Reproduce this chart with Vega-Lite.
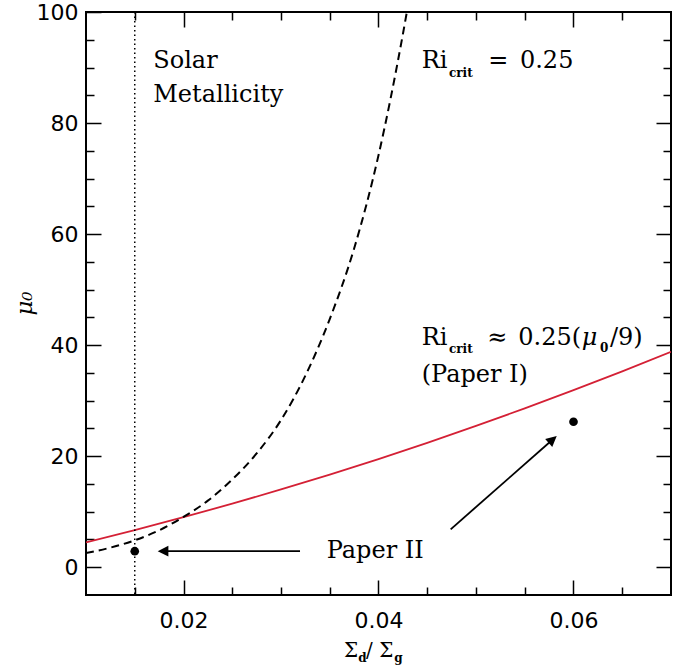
{
  "$schema": "https://vega.github.io/schema/vega-lite/v6.json",
  "autosize": "none",
  "padding": {"left": 86, "top": 12, "right": 10, "bottom": 77},
  "width": 585,
  "height": 583,
  "background": "white",
  "config": {"view": {"stroke": "black", "strokeWidth": 2}, "font": "DejaVu Serif"},
  "datasets": {
    "paper1": [
      {"x": 0.010, "y": 4.49}, {"x": 0.015, "y": 6.69}, {"x": 0.020, "y": 9.01},
      {"x": 0.025, "y": 11.45}, {"x": 0.030, "y": 14.01}, {"x": 0.035, "y": 16.69},
      {"x": 0.040, "y": 19.49}, {"x": 0.045, "y": 22.41}, {"x": 0.050, "y": 25.45},
      {"x": 0.055, "y": 28.61}, {"x": 0.060, "y": 31.89}, {"x": 0.065, "y": 35.29},
      {"x": 0.070, "y": 38.81}
    ],
    "constant": [
      {"x": 0.0100, "y": 2.56}, {"x": 0.0125, "y": 3.53}, {"x": 0.0150, "y": 4.85},
      {"x": 0.0175, "y": 6.65}, {"x": 0.0200, "y": 9.07}, {"x": 0.0225, "y": 11.99},
      {"x": 0.0250, "y": 15.8}, {"x": 0.0275, "y": 20.5}, {"x": 0.0300, "y": 26.5},
      {"x": 0.0325, "y": 34.5}, {"x": 0.0350, "y": 44.7}, {"x": 0.0375, "y": 57.4},
      {"x": 0.0400, "y": 74.2}, {"x": 0.0425, "y": 96.0}, {"x": 0.0435, "y": 106.0}
    ],
    "points": [{"x": 0.015, "y": 2.89}, {"x": 0.06, "y": 26.21}],
    "arrows": [
      {"x": 0.03195, "y": 2.89, "x2": 0.0180, "y2": 2.89},
      {"x": 0.0474, "y": 6.83, "x2": 0.05781, "y2": 22.91}
    ],
    "labels": [
      {"x": 0.0169, "y": 89.86, "t": "Solar"},
      {"x": 0.0169, "y": 83.84, "t": "Metallicity"},
      {"x": 0.04443, "y": 89.86, "t": "Ri"},
      {"x": 0.05126, "y": 89.86, "t": "="},
      {"x": 0.05451, "y": 89.86, "t": "0.25"},
      {"x": 0.04443, "y": 40.02, "t": "Ri"},
      {"x": 0.05116, "y": 40.02, "t": "≈"},
      {"x": 0.05434, "y": 40.02, "t": "0.25("},
      {"x": 0.06374, "y": 40.02, "t": "/9)"},
      {"x": 0.04443, "y": 33.41, "t": "(Paper I)"},
      {"x": 0.03469, "y": 1.64, "t": "Paper II"}
    ],
    "italic": [{"x": 0.06084, "y": 40.02, "t": "μ"}],
    "subs": [
      {"x": 0.04723, "y": 88.35, "t": "crit"},
      {"x": 0.04723, "y": 38.53, "t": "crit"},
      {"x": 0.06272, "y": 38.81, "t": "0"}
    ],
    "xtitle": [
      {"x": 0.03646, "y": -16.17, "t": "Σ"},
      {"x": 0.03872, "y": -16.17, "t": "/"},
      {"x": 0.04008, "y": -16.17, "t": "Σ"}
    ],
    "xtitlesubs": [
      {"x": 0.03793, "y": -17.07, "t": "d"},
      {"x": 0.04162, "y": -17.07, "t": "g"}
    ]
  },
  "layer": [
    {
      "data": {"name": "paper1"},
      "mark": {"type": "line", "color": "#d42035", "strokeWidth": 1.8, "interpolate": "monotone", "clip": true},
      "encoding": {
        "x": {"field": "x", "type": "quantitative", "scale": {"domain": [0.01, 0.07], "nice": false, "zero": false},
          "axis": {"orient": "bottom", "values": [0.015, 0.02, 0.025, 0.03, 0.035, 0.04, 0.045, 0.05, 0.055, 0.06, 0.065],
            "domain": false, "grid": false, "tickColor": "black", "tickWidth": 1.5,
            "tickSize": {"condition": {"test": "abs(datum.value*50-round(datum.value*50))<0.001", "value": -15}, "value": -8},
            "labelExpr": "abs(datum.value*50-round(datum.value*50))<0.001 ? format(datum.value,'.2f') : ''",
            "labelFont": "DejaVu Sans", "labelFontSize": 22, "labelColor": "black", "labelPadding": 30,
            "labelOverlap": false, "labelFlush": false, "title": null}},
        "y": {"field": "y", "type": "quantitative", "scale": {"domain": [-5, 100], "nice": false, "zero": false},
          "axis": {"orient": "left", "values": [0, 5, 10, 15, 20, 25, 30, 35, 40, 45, 50, 55, 60, 65, 70, 75, 80, 85, 90, 95, 100],
            "domain": false, "grid": false, "tickColor": "black", "tickWidth": 1.5,
            "tickSize": {"condition": {"test": "datum.value % 20 == 0", "value": -15}, "value": -8},
            "labelExpr": "datum.value % 20 == 0 ? datum.label : ''",
            "labelFont": "DejaVu Sans", "labelFontSize": 22, "labelColor": "black", "labelPadding": 23,
            "labelOverlap": false, "labelFlush": false,
            "title": "μ₀", "titleFont": "DejaVu Serif", "titleFontStyle": "italic", "titleFontSize": 23,
            "titleFontWeight": "normal", "titleColor": "black", "titleAngle": 270, "titleAlign": "center",
            "titleBaseline": "middle", "titleX": -62, "titleY": 291}}
      }
    },
    {
      "data": {"name": "constant"},
      "mark": {"type": "line", "color": "black", "strokeWidth": 2, "strokeDash": [8, 5], "interpolate": "monotone", "clip": true},
      "encoding": {
        "x": {"field": "x", "type": "quantitative",
          "axis": {"orient": "top", "values": [0.015, 0.02, 0.025, 0.03, 0.035, 0.04, 0.045, 0.05, 0.055, 0.06, 0.065],
            "domain": false, "grid": false, "labels": false, "tickColor": "black", "tickWidth": 1.5,
            "tickSize": {"condition": {"test": "abs(datum.value*50-round(datum.value*50))<0.001", "value": -15}, "value": -8},
            "title": null}},
        "y": {"field": "y", "type": "quantitative",
          "axis": {"orient": "right", "values": [0, 5, 10, 15, 20, 25, 30, 35, 40, 45, 50, 55, 60, 65, 70, 75, 80, 85, 90, 95],
            "domain": false, "grid": false, "labels": false, "tickColor": "black", "tickWidth": 1.5,
            "tickSize": {"condition": {"test": "datum.value % 20 == 0", "value": -15}, "value": -8},
            "title": null}}
      }
    },
    {
      "data": {"values": [{"x": 0.015}]},
      "mark": {"type": "rule", "color": "black", "strokeWidth": 1.5, "strokeDash": [1.5, 3]},
      "encoding": {"x": {"field": "x", "type": "quantitative", "axis": null}}
    },
    {
      "data": {"name": "points"},
      "mark": {"type": "point", "filled": true, "color": "black", "size": 75, "opacity": 1},
      "encoding": {
        "x": {"field": "x", "type": "quantitative", "axis": null},
        "y": {"field": "y", "type": "quantitative", "axis": null}
      }
    },
    {
      "data": {"name": "arrows"},
      "mark": {"type": "rule", "color": "black", "strokeWidth": 1.8},
      "encoding": {
        "x": {"field": "x", "type": "quantitative", "axis": null},
        "y": {"field": "y", "type": "quantitative", "axis": null},
        "x2": {"field": "x2"},
        "y2": {"field": "y2"}
      }
    },
    {
      "data": {"values": [{"x": 0.017354, "y": 2.89}]},
      "mark": {"type": "point", "filled": true, "color": "black", "opacity": 1, "size": 114, "shape": "M0,0 L2,-1 L2,1 Z"},
      "encoding": {
        "x": {"field": "x", "type": "quantitative", "axis": null},
        "y": {"field": "y", "type": "quantitative", "axis": null}
      }
    },
    {
      "data": {"values": [{"x": 0.05828, "y": 23.63}]},
      "mark": {"type": "point", "filled": true, "color": "black", "opacity": 1, "size": 114, "shape": "M0,0 L-2,-1 L-2,1 Z", "angle": 318.65},
      "encoding": {
        "x": {"field": "x", "type": "quantitative", "axis": null},
        "y": {"field": "y", "type": "quantitative", "axis": null}
      }
    },
    {
      "data": {"name": "labels"},
      "mark": {"type": "text", "align": "left", "baseline": "alphabetic", "font": "DejaVu Serif", "fontSize": 24, "color": "black"},
      "encoding": {
        "x": {"field": "x", "type": "quantitative", "axis": null},
        "y": {"field": "y", "type": "quantitative", "axis": null},
        "text": {"field": "t"}
      }
    },
    {
      "data": {"name": "italic"},
      "mark": {"type": "text", "align": "left", "baseline": "alphabetic", "font": "DejaVu Serif", "fontStyle": "italic", "fontSize": 24, "color": "black"},
      "encoding": {
        "x": {"field": "x", "type": "quantitative", "axis": null},
        "y": {"field": "y", "type": "quantitative", "axis": null},
        "text": {"field": "t"}
      }
    },
    {
      "data": {"name": "subs"},
      "mark": {"type": "text", "align": "left", "baseline": "alphabetic", "font": "DejaVu Serif", "fontWeight": "bold", "fontSize": 12, "color": "black"},
      "encoding": {
        "x": {"field": "x", "type": "quantitative", "axis": null},
        "y": {"field": "y", "type": "quantitative", "axis": null},
        "text": {"field": "t"}
      }
    },
    {
      "data": {"name": "xtitle"},
      "mark": {"type": "text", "align": "left", "baseline": "alphabetic", "font": "DejaVu Serif", "fontSize": 20, "color": "black"},
      "encoding": {
        "x": {"field": "x", "type": "quantitative", "axis": null},
        "y": {"field": "y", "type": "quantitative", "axis": null},
        "text": {"field": "t"}
      }
    },
    {
      "data": {"name": "xtitlesubs"},
      "mark": {"type": "text", "align": "left", "baseline": "alphabetic", "font": "DejaVu Serif", "fontWeight": "bold", "fontSize": 12, "color": "black"},
      "encoding": {
        "x": {"field": "x", "type": "quantitative", "axis": null},
        "y": {"field": "y", "type": "quantitative", "axis": null},
        "text": {"field": "t"}
      }
    }
  ],
  "resolve": {"axis": {"x": "independent", "y": "independent"}}
}
